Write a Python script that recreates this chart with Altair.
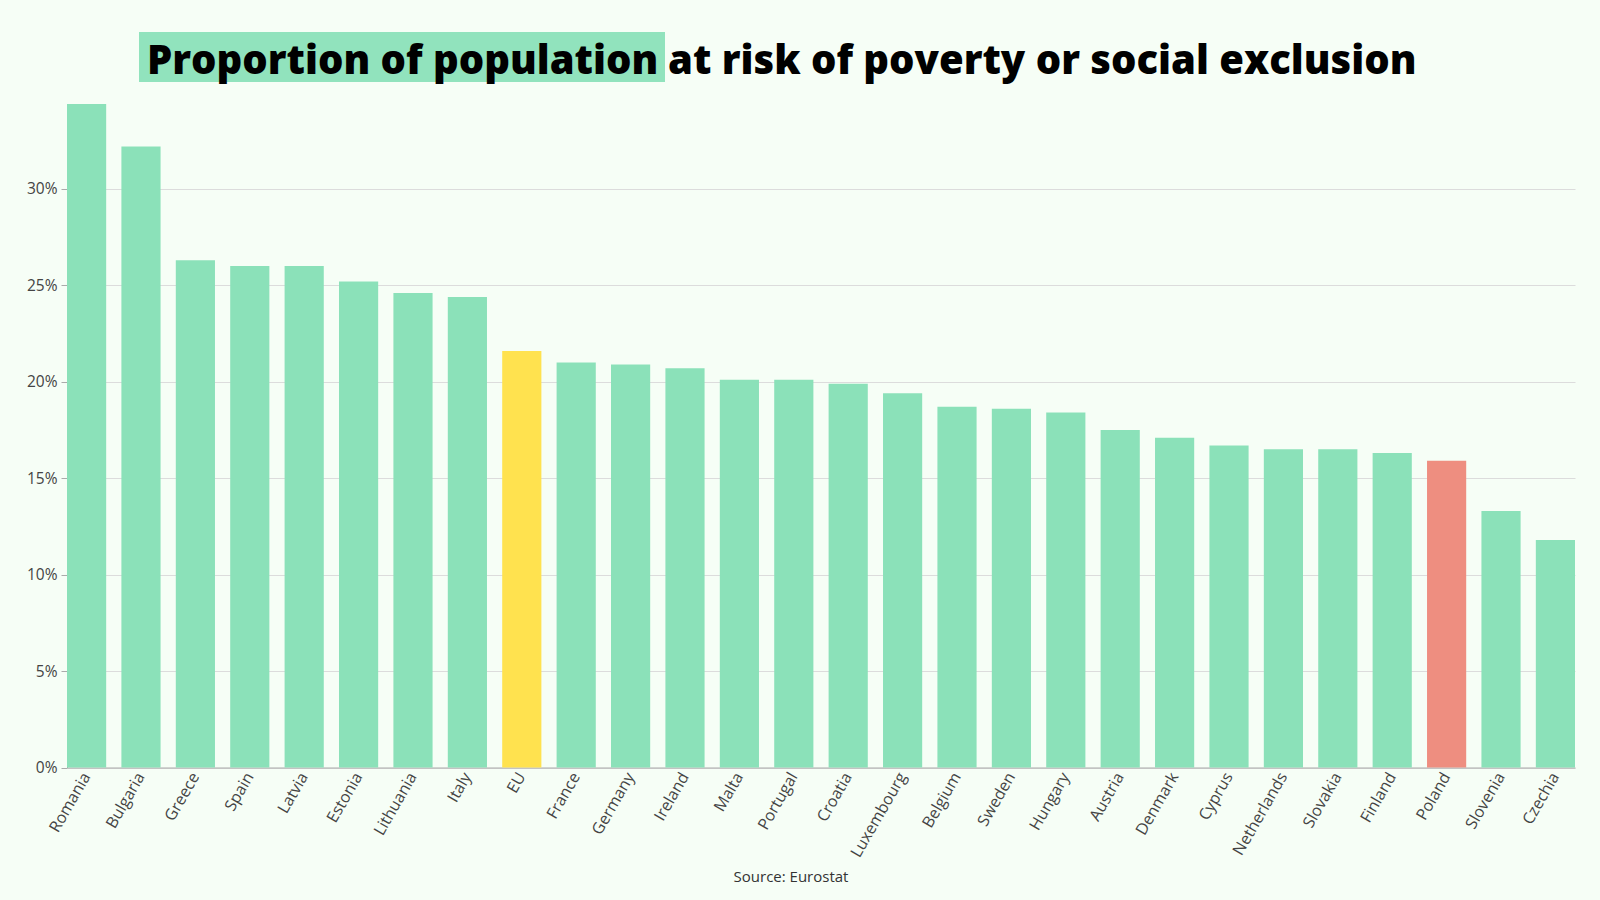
import altair as alt
import pandas as pd

countries = ["Romania", "Bulgaria", "Greece", "Spain", "Latvia", "Estonia", "Lithuania",
             "Italy", "EU", "France", "Germany", "Ireland", "Malta", "Portugal", "Croatia",
             "Luxembourg", "Belgium", "Sweden", "Hungary", "Austria", "Denmark", "Cyprus",
             "Netherlands", "Slovakia", "Finland", "Poland", "Slovenia", "Czechia"]
values = [34.4, 32.2, 26.3, 26.0, 26.0, 25.2, 24.6,
          24.4, 21.6, 21.0, 20.9, 20.7, 20.1, 20.1, 19.9,
          19.4, 18.7, 18.6, 18.4, 17.5, 17.1, 16.7,
          16.5, 16.5, 16.3, 15.9, 13.3, 11.8]
groups = ["other"] * 8 + ["EU"] + ["other"] * 16 + ["Poland"] + ["other"] * 2

y_ticks = [0, 5, 10, 15, 20, 25, 30]
title_main = "Proportion of population"
title_rest = "at risk of poverty or social exclusion"
source_text = "Source: Eurostat"

GREEN = "#8be1b9"
YELLOW = "#ffe24f"
RED = "#ee8e80"
BG = "#f6fef6"
FONT = "Open Sans"

df = pd.DataFrame({"country": countries, "value": values, "group": groups})

W, H = 1508, 663.5

bars = alt.Chart(df).mark_bar().encode(
    x=alt.X("country:N", sort=countries,
            scale=alt.Scale(paddingInner=0.28, paddingOuter=0),
            axis=alt.Axis(title=None, labelAngle=-60, labelFontSize=16, labelColor="#444",
                          labelFont=FONT, ticks=False, domainColor="#aaa", labelPadding=6,
                          labelOverlap=False)),
    y=alt.Y("value:Q", scale=alt.Scale(domain=[0, 34.4], nice=False, zero=True),
            axis=alt.Axis(title=None, values=y_ticks, labelExpr="datum.value + '%'",
                          labelFontSize=15.5, labelColor="#444", labelFont=FONT,
                          gridColor="#dcdcdc", grid=True, domainColor="#9aaa9f",
                          tickColor="#aaa", tickSize=6, labelPadding=4)),
    color=alt.Color("group:N", scale=alt.Scale(domain=["other", "EU", "Poland"],
                                               range=[GREEN, YELLOW, RED]), legend=None),
)

hl = alt.Chart(pd.DataFrame({"t": [title_main]})).mark_rect(color=GREEN, opacity=0.95).encode(
    x=alt.value(72), x2=alt.value(598), y=alt.value(-72), y2=alt.value(-22)
)
t1 = alt.Chart(pd.DataFrame({"t": [title_main]})).mark_text(
    align="left", baseline="alphabetic", font=FONT, fontWeight=800, fontSize=40, color="#000"
).encode(text="t:N", x=alt.value(80), y=alt.value(-30.5))
t2 = alt.Chart(pd.DataFrame({"t": [title_rest]})).mark_text(
    align="left", baseline="alphabetic", font=FONT, fontWeight=800, fontSize=40, color="#000"
).encode(text="t:N", x=alt.value(601), y=alt.value(-30.5))
src = alt.Chart(pd.DataFrame({"t": [source_text]})).mark_text(
    align="center", baseline="alphabetic", font=FONT, fontSize=15, color="#333"
).encode(text="t:N", x=alt.value(724), y=alt.value(114.5 + H))

chart = alt.layer(bars, hl, t1, t2, src).properties(
    width=W, height=H,
    autosize=alt.AutoSizeParams(type="none"),
    padding={"left": 67, "top": 104, "right": 25, "bottom": 132.5},
    background=BG,
).configure_view(strokeWidth=0)

chart.save("out.html", embed_options={"renderer": "svg", "actions": False})
